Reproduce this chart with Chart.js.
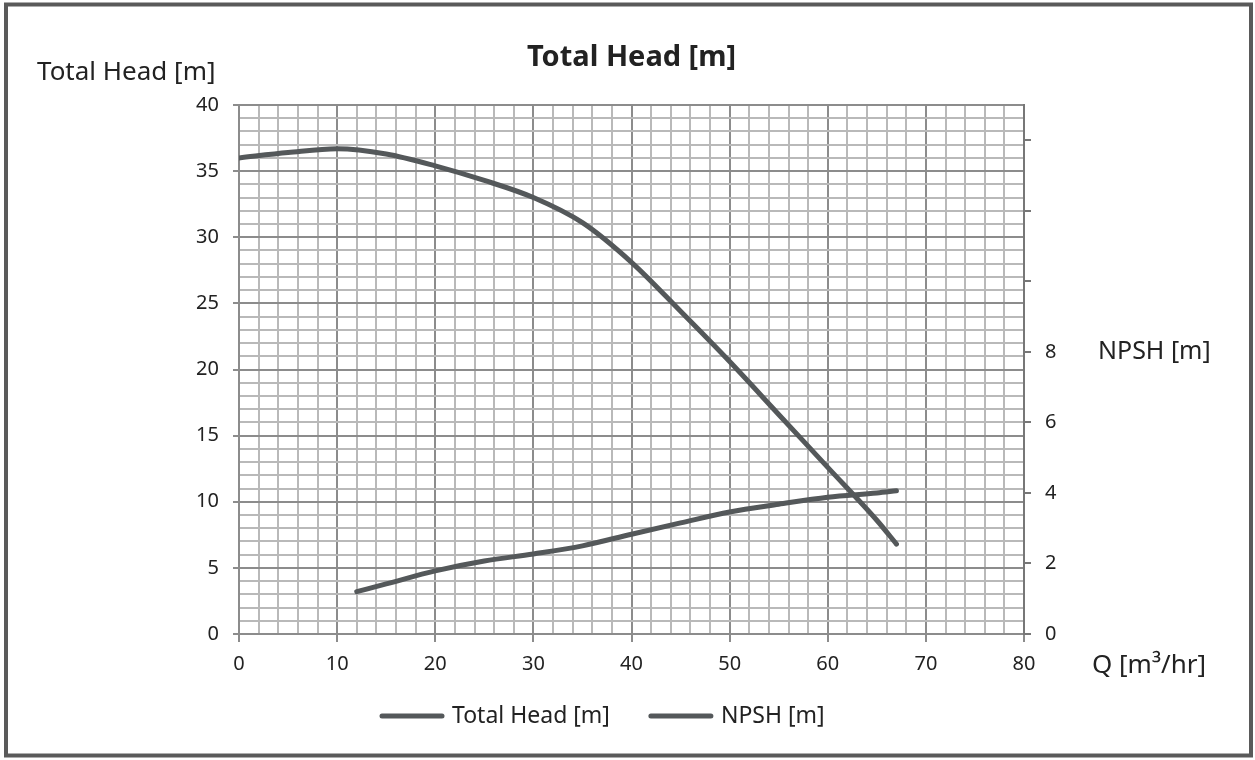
<!DOCTYPE html>
<html>
<head>
<meta charset="utf-8">
<script src="https://cdn.jsdelivr.net/npm/chart.js@4.4.1/dist/chart.umd.min.js"></script>
<style>
  html, body { margin: 0; padding: 0; background: #fff; }
  #wrap { width: 1255px; height: 760px; position: relative; }
</style>
</head>
<body>
<div id="wrap"><canvas id="pumpChart"></canvas></div>
<script>
// flow rate Q [m3/hr] for each curve
const flowHead = [0, 5, 10, 15, 20, 25, 30, 35, 40, 45, 50, 55, 60, 65, 67];
const totalHead = [36.0, 36.4, 36.7, 36.3, 35.4, 34.3, 33.0, 31.1, 28.1, 24.4, 20.6, 16.6, 12.6, 8.6, 6.8];

const flowNpsh = [12, 15, 20, 25, 30, 35, 40, 45, 50, 55, 60, 65, 67];
const npsh = [1.2, 1.42, 1.79, 2.07, 2.27, 2.5, 2.83, 3.15, 3.46, 3.68, 3.88, 4.0, 4.06];

const seriesNames = ["Total Head [m]", "NPSH [m]"];
const chartTitle = "Total Head [m]";
const leftAxisTitle = "Total Head [m]";
const rightAxisTitle = "NPSH [m]";
const xAxisTitle = "Q [m\u00B3/hr]";

const FONT = "'Noto Sans', sans-serif";
const LINE_COLOR = "#54585a";
const MAJOR = "#8c8c8c";
const MINOR = "#b9b9b9";

function toPoints(xs, ys) {
  return xs.map((x, i) => ({ x: x, y: ys[i] }));
}

// titles, frame and legend drawn on top
const decorations = {
  id: "decorations",
  afterDraw(chart) {
    const ctx = chart.ctx;
    const area = chart.chartArea;
    ctx.save();

    ctx.strokeStyle = "#5a5a5a";
    ctx.lineWidth = 4;
    ctx.strokeRect(6, 4.5, chart.width - 10, chart.height - 9);

    ctx.fillStyle = "#222";
    ctx.textBaseline = "middle";
    ctx.font = "bold 29px " + FONT;
    ctx.textAlign = "center";
    ctx.fillText(chartTitle, (area.left + area.right) / 2, 58);

    ctx.font = "26px " + FONT;
    ctx.textAlign = "left";
    ctx.fillText(leftAxisTitle, 37, 73);
    ctx.font = "25px " + FONT;
    ctx.fillText(rightAxisTitle, 1098, chart.scales.y2.getPixelForValue(8));
    ctx.font = "26px " + FONT;
    ctx.fillText(xAxisTitle, 1092, 666);

    // legend
    let x = 382;
    const y = 716;
    ctx.font = "23px " + FONT;
    chart.data.datasets.forEach((ds) => {
      ctx.strokeStyle = ds.borderColor;
      ctx.lineWidth = 5;
      ctx.lineCap = "round";
      ctx.beginPath();
      ctx.moveTo(x, y);
      ctx.lineTo(x + 60, y);
      ctx.stroke();
      ctx.fillStyle = "#222";
      ctx.fillText(ds.label, x + 70, y);
      x += 70 + ctx.measureText(ds.label).width + 41;
    });
    ctx.restore();
  }
};

const ctx = document.getElementById("pumpChart").getContext("2d");
new Chart(ctx, {
  type: "line",
  data: {
    datasets: [
      {
        label: seriesNames[0],
        data: toPoints(flowHead, totalHead),
        yAxisID: "y",
        borderColor: LINE_COLOR,
        borderWidth: 5,
        pointRadius: 0,
        borderCapStyle: "round",
        cubicInterpolationMode: "monotone",
      },
      {
        label: seriesNames[1],
        data: toPoints(flowNpsh, npsh),
        yAxisID: "y2",
        borderColor: LINE_COLOR,
        borderWidth: 5,
        pointRadius: 0,
        borderCapStyle: "round",
        cubicInterpolationMode: "monotone",
      },
    ],
  },
  plugins: [decorations],
  options: {
    responsive: true,
    maintainAspectRatio: false,
    animation: false,
    layout: { padding: { top: 105, left: 0, right: 0, bottom: 0 } },
    plugins: {
      legend: { display: false },
      title: { display: false },
      tooltip: { enabled: false },
    },
    scales: {
      x: {
        type: "linear",
        min: 0,
        max: 80,
        afterFit: (s) => { s.height = 126; },
        ticks: {
          stepSize: 2,
          autoSkip: false,
          maxRotation: 0,
          padding: 10,
          color: "#222",
          font: { family: FONT, size: 20 },
          callback: (v) => (v % 10 === 0 ? v : ""),
        },
        grid: {
          color: (c) => (c.tick && c.tick.value % 10 === 0 ? MAJOR : MINOR),
          lineWidth: 2,
          tickLength: 8,
          tickColor: (c) => (c.tick && c.tick.value % 10 === 0 ? MAJOR : "rgba(0,0,0,0)"),
        },
        border: { color: MAJOR, width: 2 },
      },
      y: {
        position: "left",
        min: 0,
        max: 40,
        afterFit: (s) => { s.width = 239; },
        ticks: {
          stepSize: 1,
          autoSkip: false,
          padding: 14,
          color: "#222",
          font: { family: FONT, size: 20 },
          callback: (v) => (v % 5 === 0 ? v : ""),
        },
        grid: {
          color: (c) => (c.tick && c.tick.value % 5 === 0 ? MAJOR : MINOR),
          lineWidth: 2,
          tickLength: 6,
          tickColor: (c) => (c.tick && c.tick.value % 5 === 0 ? MAJOR : "rgba(0,0,0,0)"),
        },
        border: { color: MAJOR, width: 2 },
      },
      y2: {
        position: "right",
        min: 0,
        max: 15,
        afterFit: (s) => { s.width = 231; },
        afterBuildTicks: (s) => {
          s.ticks = s.ticks.filter((t) => t.value % 2 === 0);
        },
        ticks: {
          stepSize: 2,
          autoSkip: false,
          padding: 14,
          color: "#222",
          font: { family: FONT, size: 20 },
          callback: (v) => (v <= 8 ? v : ""),
        },
        grid: {
          drawOnChartArea: false,
          color: "#777",
          lineWidth: 2,
          tickLength: 7,
        },
        border: { color: "#777", width: 2 },
      },
    },
  },
});
</script>
</body>
</html>
